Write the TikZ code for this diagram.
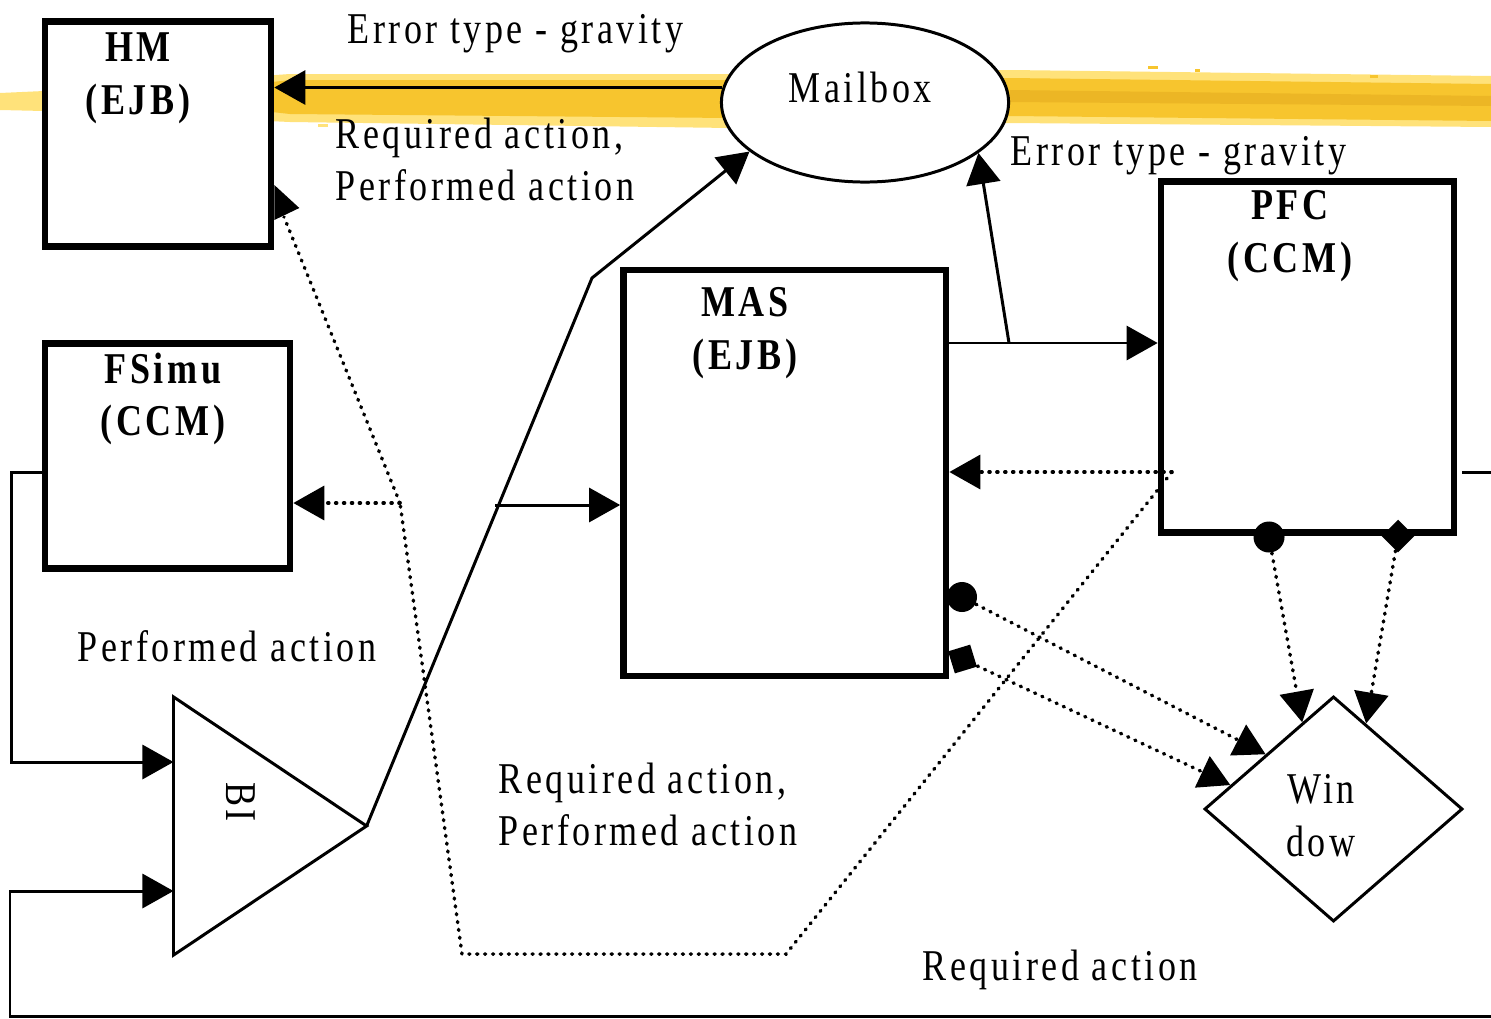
\documentclass[tikz,border=0pt]{standalone}
\usepackage{fontspec}
\setmainfont{Liberation Serif}[FakeStretch=0.82,LetterSpace=8]
\usetikzlibrary{positioning,arrows.meta,shapes.geometric,calc}

\definecolor{bandlight}{HTML}{FFE27A}
\definecolor{bandgold}{HTML}{F7C52E}
\definecolor{banddark}{HTML}{E5AC1F}

\begin{document}
\begin{tikzpicture}[
    x=0.01cm, y=-0.01cm,
    font=\fontsize{12.5}{15}\selectfont,
    box/.style={rectangle, draw=black, line width=1.85pt, fill=white, inner sep=0pt},
    title/.style={font=\fontsize{12.5}{15}\selectfont\bfseries, align=center, anchor=north, inner sep=0pt},
    lbl/.style={inner sep=0pt, align=left},
    arrow/.style={-{Triangle[length=0.31cm,width=0.34cm]}, line width=0.85pt},
    dotline/.style={line width=1.0pt, line cap=round, dash pattern=on 0.3pt off 1.95pt},
    dotarrow/.style={arrow, dotline},
    port/.style={circle, fill=black, inner sep=0pt, minimum size=0.3cm},
    sqport/.style={rectangle, fill=black, inner sep=0pt, minimum size=0.23cm}
]

\fill[white] (0,0) rectangle (1491,1018);
\useasboundingbox (0,0) rectangle (1491,1018);

% ============== HIGHLIGHT BAND ==============
\fill[bandlight] (0,93) -- (44,91) -- (290,74) -- (730,74) -- (1010,70) -- (1491,76)
    -- (1491,127) -- (1010,123) -- (730,128) -- (290,122) -- (44,111) -- (0,110) -- cycle;
\fill[bandgold] (272,82) -- (290,80) -- (730,80) -- (1010,78) -- (1491,84)
    -- (1491,121) -- (1010,116) -- (730,118) -- (290,114) -- (272,112) -- cycle;
\fill[banddark, opacity=0.6] (1010,90) -- (1491,96) -- (1491,106) -- (1010,102) -- cycle;
\fill[bandgold] (1148,66) rectangle (1158,69);
\fill[bandgold] (1195,69) rectangle (1200,72);
\fill[bandgold] (1370,75) rectangle (1378,78);
\fill[bandlight] (318,124) rectangle (328,127);

% ============== COMPONENTS ==============
\node[box, minimum width=2.26cm, minimum height=2.25cm] (hm) at (158,134) {};
\node[title] (hmtitle) at (138,32) {HM\\(EJB)};

\node[box, minimum width=2.45cm, minimum height=2.25cm] (fsimu) at (167.5,456) {};
\node[title] (fsimutitle) at (163,352) {FSimu\\(CCM)};

\node[box, minimum width=3.225cm, minimum height=4.06cm] (mas) at (784.75,473) {};
\node[title] (mastitle) at (745,287) {MAS\\(EJB)};

\node[box, minimum width=2.93cm, minimum height=3.505cm] (pfc) at (1307.5,357) {};
\node[title] (pfctitle) at (1290,190) {PFC\\(CCM)};

\node[ellipse, draw, line width=0.85pt, fill=white, minimum width=2.87cm, minimum height=1.59cm, inner sep=0pt] (mailbox) at (865,102.5) {};
\node[lbl, anchor=base west] (mailtext) at (788,102) {Mailbox};

\node[diamond, draw, line width=0.85pt, fill=white, minimum width=2.58cm, minimum height=2.25cm, inner sep=0pt] (window) at (1333.5,809) {};
\node[lbl, align=center] (wintext) at (1321,816) {Win\\dow};

\node[isosceles triangle, isosceles triangle stretches, draw, line width=0.85pt, fill=white,
      minimum width=2.58cm, minimum height=1.93cm, inner sep=0pt, outer sep=0pt, anchor=lower side] (bi) at (173.5,826) {};
\node[rotate=-90, inner sep=0pt] (bitext) at (241,802) {BI};

% ports
\node[port] (mascirc) at (962,597) {};
\node[sqport, rotate=17] (massq) at (962.5,659) {};
\node[port, minimum size=0.31cm] (pfccirc) at (1269,537) {};
\node[sqport, rotate=45] (pfcsq) at (1398,536) {};
\fill ($(hm.east)+(0,51)$) -- ++(25,23) -- ++(-25,12) -- cycle;

% ============== LABELS ==============
\node[lbl, anchor=base west] (errleft) at (347,43) {Error type - gravity};
\node[lbl, anchor=north west] (actleft) at (335,117) {Required action,\\Performed action};
\node[lbl, anchor=base west] (perfleft) at (77,661) {Performed action};
\node[lbl, anchor=north west] (actmid) at (498,762) {Required action,\\Performed action};
\node[lbl, anchor=base west] (errright) at (1010,165) {Error type - gravity};
\node[lbl, anchor=base west] (reqbottom) at (922,980) {Required action};

% ============== CONNECTIONS ==============
\coordinate (split) at (1009,343);
\coordinate (tap) at (495,505);
\coordinate (pfcport) at (1172,472);
\coordinate (jct) at (400,503);
\coordinate (hmport) at (284,217);

% Mailbox -> HM
\draw[arrow] (mailbox.174) -- (mailbox.174 -| hm.east);

% MAS -> PFC, MAS -> Mailbox
\draw[arrow] (split -| mas.east) -- (split -| pfc.west);
\draw[arrow] (split) -- (mailbox.-24);

% BI -> Mailbox, BI -> MAS
\draw[arrow] (bi.apex) -- (592,278) -- (mailbox.203);
\draw[arrow] (tap) -- (tap -| mas.west);

% FSimu -> BI
\draw[arrow] ($(fsimu.west)+(0,16)$) -- ++(-30,0) |- ($(bi.lower side)+(0,-64)$);

% PFC -> BI (round the bottom)
\draw[arrow] ($(pfc.east)+(5,115)$) -- ++(40,0) |- (10,1016) |- ($(bi.lower side)+(0,65)$);

% PFC -> MAS, FSimu, HM (dotted)
\draw[dotarrow] (pfcport) -- (pfcport -| mas.east);
\draw[dotline] (pfcport) -- (786,954) -- (462,954) -- (jct);
\draw[dotarrow] (jct) -- (jct -| fsimu.east);
\draw[dotline] (jct) -- (hmport);

% ports -> Window
\draw[dotarrow] (mascirc) -- ($(window.west)!0.48!(window.north)$);
\draw[dotarrow] (massq) -- ($(window.west)!0.21!(window.north)$);
\draw[dotarrow] (pfccirc) -- ($(window.west)!0.76!(window.north)$);
\draw[dotarrow] (pfcsq) -- ($(window.north)!0.25!(window.east)$);

\end{tikzpicture}
\end{document}
